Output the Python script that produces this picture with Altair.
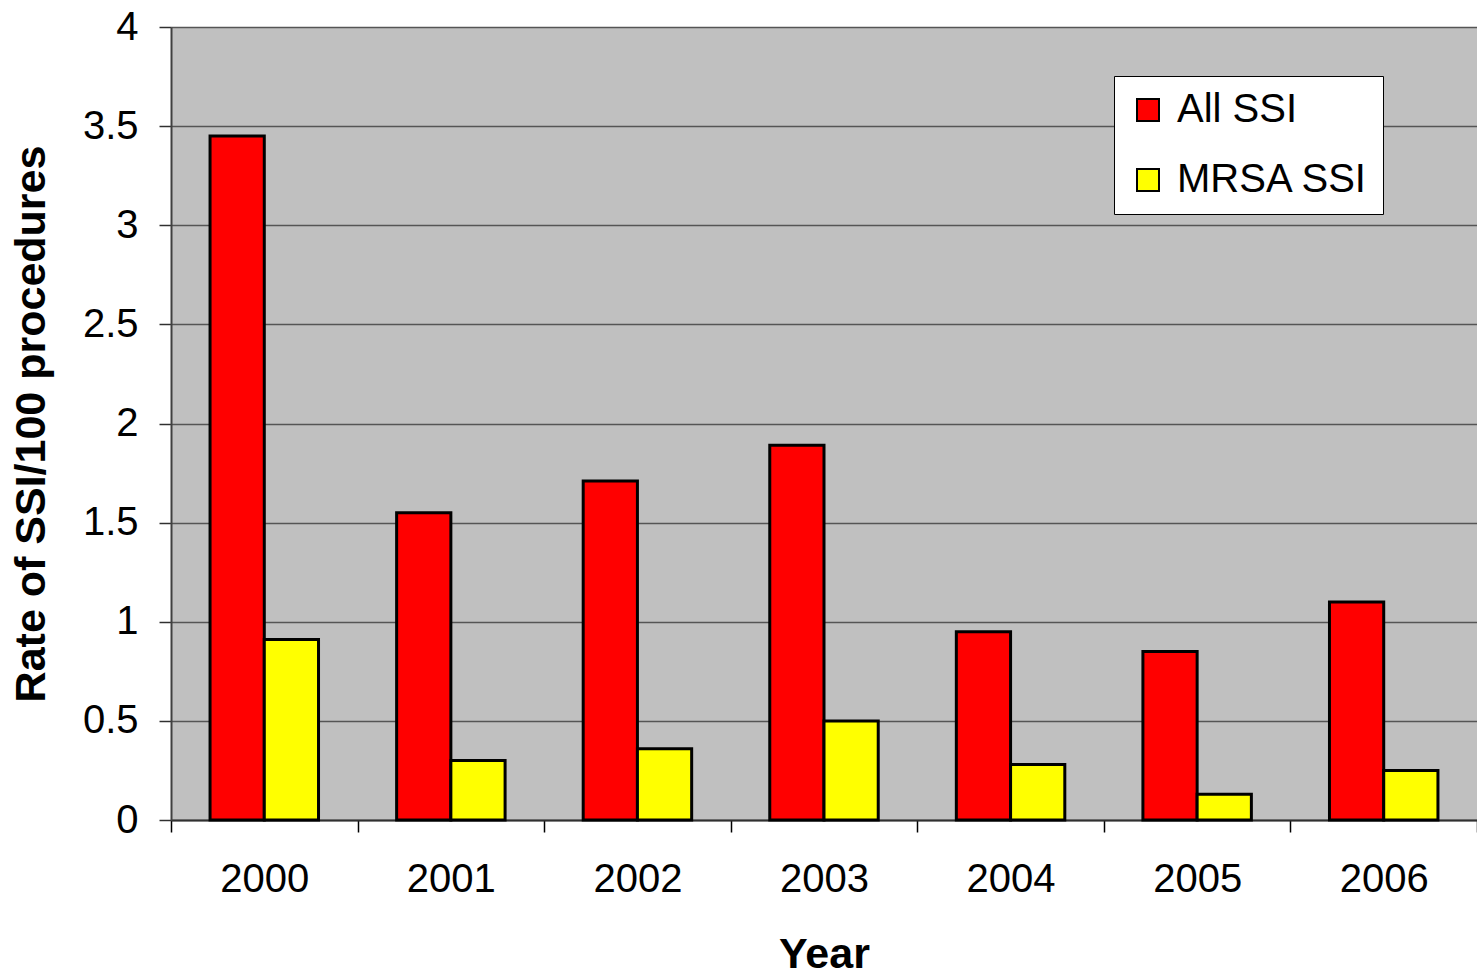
import altair as alt
import pandas as pd

# Surgical site infection rates per 100 procedures, by year
years = ["2000", "2001", "2002", "2003", "2004", "2005", "2006"]
all_ssi = [3.45, 1.55, 1.71, 1.89, 0.95, 0.85, 1.10]
mrsa_ssi = [0.91, 0.30, 0.36, 0.50, 0.28, 0.13, 0.25]
series = ["All SSI", "MRSA SSI"]
colors = ["#FF0000", "#FFFF00"]
y_ticks = [0, 0.5, 1, 1.5, 2, 2.5, 3, 3.5, 4]

rows = []
for yr, a, m in zip(years, all_ssi, mrsa_ssi):
    rows.append({"Year": yr, "Series": series[0], "Rate": a})
    rows.append({"Year": yr, "Series": series[1], "Rate": m})
df = pd.DataFrame(rows)

font = "Liberation Sans"

chart = (
    alt.Chart(df)
    .mark_bar(stroke="black", strokeWidth=3)
    .encode(
        x=alt.X(
            "Year:N",
            sort=years,
            scale=alt.Scale(paddingInner=0, paddingOuter=0),
            axis=alt.Axis(
                title="Year",
                labelAngle=0,
                tickBand="extent",
                tickSize=12,
                tickColor="black",
                tickWidth=1.5,
                domainColor="#303030",
                domainWidth=2,
                grid=False,
                labelFont=font,
                labelFontSize=40,
                labelColor="black",
                labelPadding=27,
                titleFont=font,
                titleFontSize=43,
                titleFontWeight="bold",
                titleColor="black",
                titleY=147,
                titleBaseline="alphabetic",
            ),
        ),
        xOffset=alt.XOffset(
            "Series:N",
            sort=series,
            scale=alt.Scale(paddingInner=0, paddingOuter=0.72),
        ),
        y=alt.Y(
            "Rate:Q",
            scale=alt.Scale(domain=[0, 4], nice=False, zero=True),
            axis=alt.Axis(
                title="Rate of SSI/100 procedures",
                values=y_ticks,
                format="~g",
                tickSize=12,
                tickColor="#303030",
                tickWidth=1.5,
                domainColor="#404040",
                domainWidth=2,
                grid=True,
                gridColor="#555555",
                gridWidth=1.5,
                labelFont=font,
                labelFontSize=40,
                labelColor="black",
                labelPadding=21,
                titleFont=font,
                titleFontSize=43,
                titleFontWeight="bold",
                titleColor="black",
                titleX=-140,
                titleBaseline="middle",
            ),
        ),
        color=alt.Color(
            "Series:N",
            sort=series,
            scale=alt.Scale(domain=series, range=colors),
            legend=alt.Legend(
                title=None,
                orient="none",
                legendX=943,
                legendY=49,
                fillColor="white",
                strokeColor="black",
                padding=14,
                symbolType="square",
                symbolSize=484,
                symbolStrokeColor="black",
                symbolStrokeWidth=2,
                symbolOpacity=1,
                labelFont=font,
                labelFontSize=40,
                labelColor="black",
                labelOffset=9,
                labelLimit=0,
                rowPadding=30,
            ),
        ),
    )
    .properties(
        width=1306,
        height=793,
        background="white",
        autosize="none",
        padding={"left": 171, "top": 27, "right": 0, "bottom": 157},
    )
    .configure_view(fill="#C0C0C0", stroke=None)
)

chart.save("out.html", embed_options={"renderer": "svg", "actions": False})
